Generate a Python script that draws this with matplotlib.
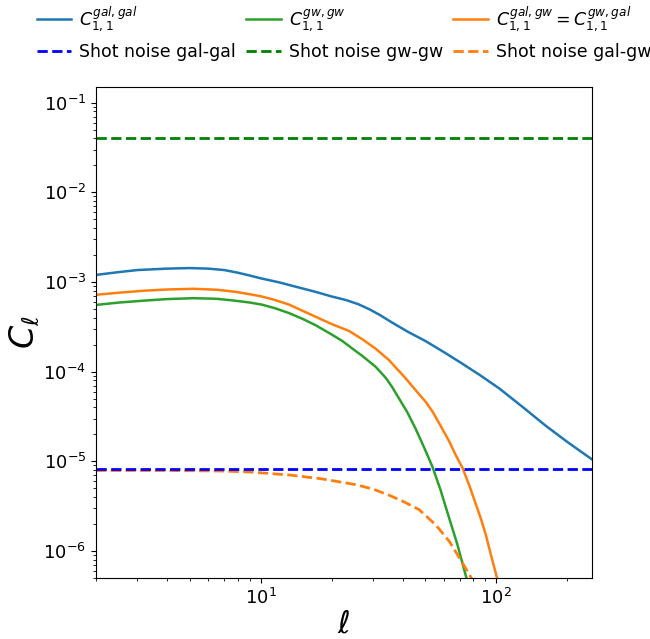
import matplotlib
matplotlib.use("Agg")
import matplotlib.pyplot as plt

ell_galgal = [2, 2.5, 3, 4, 5, 6, 7, 8, 9, 10, 12, 14, 17, 20, 23, 26, 29, 32, 36, 42, 50,
              60, 70, 85, 103, 130, 162, 200, 255]
cl_galgal = [1.20e-3, 1.29e-3, 1.36e-3, 1.41e-3, 1.43e-3, 1.41e-3, 1.36e-3, 1.27e-3, 1.18e-3,
             1.10e-3, 9.9e-4, 8.9e-4, 7.8e-4, 6.9e-4, 6.3e-4, 5.65e-4, 4.95e-4, 4.3e-4, 3.55e-4,
             2.8e-4, 2.2e-4, 1.65e-4, 1.28e-4, 9.2e-5, 6.5e-5, 4.0e-5, 2.5e-5, 1.65e-5, 1.05e-5]

ell_gwgw = [2, 2.5, 3.2, 4, 5.2, 6.5, 7.75, 9, 10.1, 11.5, 13.2, 15, 17.1, 20, 22.2, 25.3, 27,
            30.8, 34, 36.2, 38.7, 42, 45.5, 49, 53.6, 58, 63.2, 68.4, 74.4, 76]
cl_gwgw = [5.55e-4, 5.9e-4, 6.2e-4, 6.45e-4, 6.6e-4, 6.5e-4, 6.2e-4, 5.9e-4, 5.6e-4, 5.1e-4,
           4.5e-4, 3.9e-4, 3.3e-4, 2.6e-4, 2.2e-4, 1.7e-4, 1.5e-4, 1.13e-4, 8.5e-5, 6.7e-5,
           5.0e-5, 3.5e-5, 2.3e-5, 1.5e-5, 8.7e-6, 4.8e-6, 2.3e-6, 1.18e-6, 5.2e-7, 4.3e-7]

ell_galgw = [2, 2.5, 3.2, 4, 5.2, 6.5, 7.75, 9, 10.1, 11.5, 13.2, 15, 17.1, 20, 23.7, 27, 30.8,
             35, 38.6, 41.3, 46, 50.2, 53.6, 58, 63.2, 67, 72, 77, 82, 86, 90.4, 95, 99.8, 102]
cl_galgw = [7.2e-4, 7.6e-4, 8.0e-4, 8.25e-4, 8.4e-4, 8.2e-4, 7.8e-4, 7.3e-4, 6.9e-4, 6.3e-4,
            5.6e-4, 4.8e-4, 4.1e-4, 3.4e-4, 2.85e-4, 2.3e-4, 1.8e-4, 1.35e-4, 1.02e-4, 8.4e-5,
            6.0e-5, 4.6e-5, 3.6e-5, 2.5e-5, 1.66e-5, 1.2e-5, 8.4e-6, 5.3e-6, 3.3e-6, 2.3e-6,
            1.5e-6, 9.0e-7, 5.5e-7, 4.3e-7]

ell_noise_galgw = [2, 4, 6.84, 9, 13.2, 18, 25.3, 30, 35, 40, 47, 55.3, 63.2, 69.7, 76.8, 80]
noise_galgw = [7.9e-6, 7.9e-6, 7.8e-6, 7.6e-6, 7.05e-6, 6.4e-6, 5.5e-6, 4.9e-6, 4.2e-6, 3.6e-6,
               2.9e-6, 1.96e-6, 1.28e-6, 8.4e-7, 5.5e-7, 4.5e-7]

noise_galgal = 8.3e-6
noise_gwgw = 4.0e-2

fig = plt.figure(figsize=(6.5, 6.39), dpi=100)
ax = fig.add_axes([0.1477, 0.0955, 0.7631, 0.7685])

l1, = ax.plot(ell_galgal, cl_galgal, color="tab:blue", lw=1.8, label=r"$C_{1,1}^{gal,gal}$")
l2, = ax.plot(ell_gwgw, cl_gwgw, color="tab:green", lw=1.8, label=r"$C_{1,1}^{gw,gw}$")
l3, = ax.plot(ell_galgw, cl_galgw, color="tab:orange", lw=1.8,
              label=r"$C_{1,1}^{gal,gw} = C_{1,1}^{gw,gal}$")
n3, = ax.plot(ell_noise_galgw, noise_galgw, color="tab:orange", ls="--", lw=2,
              label="Shot noise gal-gw")
n1 = ax.axhline(noise_galgal, color="blue", ls="--", lw=2, label="Shot noise gal-gal")
n2 = ax.axhline(noise_gwgw, color="green", ls="--", lw=2, label="Shot noise gw-gw")

ax.set_xscale("log")
ax.set_yscale("log")
ax.set_xlim(2, 255)
ax.set_ylim(5e-7, 0.15)
ax.tick_params(labelsize=13)
ax.set_xlabel(r"$\ell$", fontsize=22, labelpad=1)
ax.set_ylabel(r"$C_\ell$", fontsize=24, labelpad=1)

ax.legend(handles=[l1, n1, l2, n2, l3, n3], ncol=3, frameon=False, fontsize=12.5,
          loc="lower center", bbox_to_anchor=(0.5, 1.02), columnspacing=0.6,
          handlelength=2.0, handletextpad=0.45, labelspacing=0.6)

fig.savefig("out.png", dpi=100)
